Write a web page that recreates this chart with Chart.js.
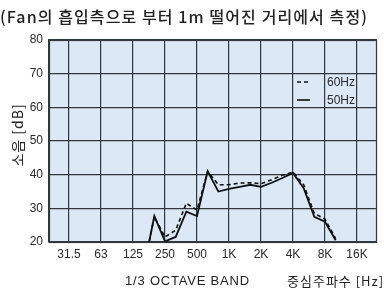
<!DOCTYPE html>
<html>
<head>
<meta charset="utf-8">
<script src="https://cdn.jsdelivr.net/npm/chart.js@4.4.0/dist/chart.umd.min.js"></script>
<style>
html,body{margin:0;padding:0;background:#fff;}
#wrap{width:384px;height:291px;position:relative;}
</style>
</head>
<body>
<div id="wrap"><canvas id="c" width="384" height="291"></canvas></div>
<script>
// 1/3-octave band centre frequencies (position sequence on the x axis)
const thirdOctaveBands = ['31.5','40','50','63','80','100','125','160','200','250','315','400','500','630','800','1K','1.25K','1.6K','2K','2.5K','3.15K','4K','5K','6.3K','8K','10K','12.5K','16K'];
// Octave tick labels
const tickLabels = ['31.5','63','125','250','500','1K','2K','4K','8K','16K'];
// Bands that carry measurements
const measuredBands = ['160','200','250','315','400','500','630','800','1K','1.25K','1.6K','2K','2.5K','3.15K','4K','5K','6.3K','8K','10K'];
const values60Hz = [12, 27.5, 21.5, 23.5, 31.5, 29.5, 41, 37, 37, 37.5, 37.6, 37.3, 38.5, 39.8, 40.8, 37, 28.5, 26.8, 21];
const values50Hz = [12, 27.7, 20.2, 21.5, 29, 27.7, 41, 35, 35.8, 36.4, 37, 36.4, 37.6, 39, 40.5, 36, 27.5, 26, 20.5];
const yTicks = [20, 30, 40, 50, 60, 70, 80];

const titleText = '(Fan의 흡입측으로 부터 1m 떨어진 거리에서 측정)';
const yTitle = '소음 [dB]';
const xTitle1 = '1/3 OCTAVE BAND';
const xTitle2 = '중심주파수 [Hz]';

const pos = b => thirdOctaveBands.indexOf(b);
const toPts = vals => measuredBands.map((b, i) => ({x: pos(b), y: vals[i]}));

const ink = '#2a2a2a';
const grid = '#33383e';

const decor = {
  id: 'decor',
  beforeDraw(chart) {
    const {ctx, chartArea: a} = chart;
    ctx.save();
    ctx.fillStyle = '#dce8f5';
    ctx.fillRect(a.left, a.top, a.right - a.left, a.bottom - a.top);
    ctx.restore();
  },
  afterDatasetsDraw(chart) {
    const {ctx, chartArea: a} = chart;
    ctx.save();
    ctx.strokeStyle = grid;
    ctx.lineWidth = 1.2;
    ctx.strokeRect(a.left + 0.5, a.top + 0.5, a.right - a.left - 1, a.bottom - a.top);
    // legend
    const lx = 297, ly = [82, 100];
    chart.data.datasets.forEach((ds, i) => {
      ctx.beginPath();
      ctx.setLineDash(ds.borderDash || []);
      ctx.strokeStyle = '#111';
      ctx.lineWidth = 1.6;
      ctx.moveTo(lx, ly[i]);
      ctx.lineTo(lx + 13, ly[i]);
      ctx.stroke();
      ctx.setLineDash([]);
      ctx.fillStyle = ink;
      ctx.font = '12px "Liberation Sans", Arial, sans-serif';
      ctx.textBaseline = 'middle';
      ctx.textAlign = 'left';
      ctx.fillText(ds.label, 327, ly[i] + 1);
    });
    // titles
    ctx.fillStyle = '#222';
    ctx.textBaseline = 'middle';
    ctx.textAlign = 'left';
    ctx.letterSpacing = '1.1px';
    ctx.font = '500 16px "Noto Sans CJK KR", sans-serif';
    ctx.fillText(titleText, 0, 17);
    ctx.letterSpacing = '0.8px';
    ctx.font = '13px "Liberation Sans", Arial, sans-serif';
    ctx.fillText(xTitle1, 125, 281);
    ctx.letterSpacing = '1px';
    ctx.font = '13px "Noto Sans CJK KR", sans-serif';
    ctx.fillText(xTitle2, 287, 281);
    ctx.translate(18, 135);
    ctx.rotate(-Math.PI / 2);
    ctx.textAlign = 'center';
    ctx.letterSpacing = '1px';
    ctx.font = '14px "Noto Sans CJK KR", sans-serif';
    ctx.fillText(yTitle, 0, 0);
    ctx.restore();
  }
};

new Chart(document.getElementById('c'), {
  type: 'line',
  data: {
    datasets: [
      {label: '60Hz', data: toPts(values60Hz), borderColor: '#111', borderWidth: 1.6, borderDash: [4, 3], pointRadius: 0, tension: 0, fill: false},
      {label: '50Hz', data: toPts(values50Hz), borderColor: '#111', borderWidth: 1.8, pointRadius: 0, tension: 0, fill: false}
    ]
  },
  options: {
    responsive: false,
    animation: false,
    layout: {padding: {top: 40, right: 7, left: 0, bottom: 0}},
    plugins: {legend: {display: false}, tooltip: {enabled: false}},
    scales: {
      x: {
        type: 'linear',
        min: -1.875,
        max: 28.875,
        afterBuildTicks(s) { s.ticks = tickLabels.map(l => ({value: pos(l)})); },
        afterFit(s) { s.height = 49; },
        ticks: {
          autoSkip: false, maxRotation: 0, padding: 5,
          color: ink,
          font: {family: '"Liberation Sans", Arial, sans-serif', size: 12},
          callback: v => thirdOctaveBands[v]
        },
        grid: {color: grid, lineWidth: 1.2, tickLength: 0, drawTicks: false},
        border: {color: grid, width: 1.2}
      },
      y: {
        min: 20, max: 80,
        afterBuildTicks(s) { s.ticks = yTicks.map(v => ({value: v})); },
        afterFit(s) { s.width = 49; },
        ticks: {
          padding: 6, color: ink,
          font: {family: '"Liberation Sans", Arial, sans-serif', size: 12}
        },
        grid: {color: grid, lineWidth: 1.2, tickLength: 0, drawTicks: false},
        border: {color: grid, width: 1.2}
      }
    }
  },
  plugins: [decor]
});
</script>
</body>
</html>
